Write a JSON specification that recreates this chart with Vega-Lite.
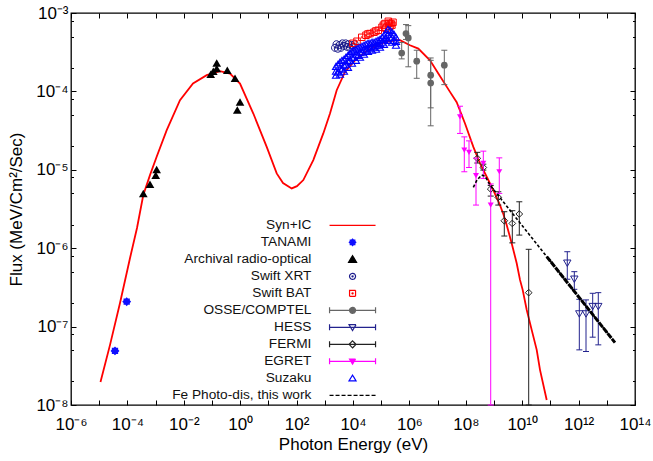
{
"$schema":"https://vega.github.io/schema/vega-lite/v6.json",
"width":564,"height":392,
"autosize":{"type":"none"},
"padding":{"left":71,"top":13,"right":18,"bottom":56},
"background":"white",
"config":{
 "view":{"stroke":"#000","strokeWidth":1.3},
 "mark":{"opacity":1},"point":{"opacity":1},"tick":{"opacity":1},"rule":{"opacity":1},
 "axis":{"grid":false,"domain":false,"tickColor":"#000","tickWidth":1,"labelFont":"Liberation Sans","titleFont":"Liberation Sans","labelColor":"#000","titleColor":"#000","titleFontWeight":"normal","labelFlush":false,"labelOverlap":false},
 "legend":{"orient":"none","legendX":274.7,"legendY":205.5,"padding":0,"labelAlign":"right","labelOffset":-48,"labelFont":"Liberation Sans","labelFontSize":13.7,"labelColor":"#111","symbolSize":100,"symbolStrokeWidth":1.2,"rowPadding":2,"labelLimit":400,"symbolOpacity":1,"labelBaseline":"middle"}
},
"data":{"values":[
{"s":"Syn+IC","x":1.11e-5,"y":1.97e-8},{"s":"Syn+IC","x":2.42e-5,"y":5.85e-8},{"s":"Syn+IC","x":5.47e-5,"y":2.0e-7},{"s":"Syn+IC","x":1.24e-4,"y":7.5e-7},{"s":"Syn+IC","x":2.19e-4,"y":1.81e-6},{"s":"Syn+IC","x":3.66e-4,"y":4.76e-6},{"s":"Syn+IC","x":6.32e-4,"y":8.55e-6},{"s":"Syn+IC","x":1.09e-3,"y":1.47e-5},{"s":"Syn+IC","x":2.48e-3,"y":3.21e-5},{"s":"Syn+IC","x":7.33e-3,"y":7.73e-5},{"s":"Syn+IC","x":2.12e-2,"y":1.26e-4},{"s":"Syn+IC","x":6.49e-2,"y":1.61e-4},{"s":"Syn+IC","x":0.192,"y":1.81e-4},{"s":"Syn+IC","x":0.435,"y":1.69e-4},{"s":"Syn+IC","x":0.984,"y":1.26e-4},{"s":"Syn+IC","x":2.92,"y":5.22e-5},{"s":"Syn+IC","x":8.71,"y":1.96e-5},{"s":"Syn+IC","x":19.7,"y":9.0e-6},{"s":"Syn+IC","x":33.0,"y":6.78e-6},{"s":"Syn+IC","x":67.0,"y":5.79e-6},{"s":"Syn+IC","x":103,"y":6.19e-6},{"s":"Syn+IC","x":173,"y":7.4e-6},{"s":"Syn+IC","x":391,"y":1.33e-5},{"s":"Syn+IC","x":885,"y":2.91e-5},{"s":"Syn+IC","x":1528,"y":5.22e-5},{"s":"Syn+IC","x":2642,"y":1.035e-4},{"s":"Syn+IC","x":5200,"y":1.77e-4},{"s":"Syn+IC","x":11780,"y":2.49e-4},{"s":"Syn+IC","x":26670,"y":3.16e-4},{"s":"Syn+IC","x":60260,"y":3.77e-4},{"s":"Syn+IC","x":1.36e5,"y":4.24e-4},{"s":"Syn+IC","x":3.08e5,"y":4.49e-4},{"s":"Syn+IC","x":4.64e5,"y":4.49e-4},{"s":"Syn+IC","x":1.05e6,"y":3.88e-4},{"s":"Syn+IC","x":2.07e6,"y":3.52e-4},{"s":"Syn+IC","x":5.37e6,"y":2.49e-4},{"s":"Syn+IC","x":1.06e7,"y":1.69e-4},{"s":"Syn+IC","x":2.75e7,"y":9.86e-5},{"s":"Syn+IC","x":4.75e7,"y":7.28e-5},{"s":"Syn+IC","x":9.38e7,"y":3.9e-5},{"s":"Syn+IC","x":1.85e8,"y":1.96e-5},{"s":"Syn+IC","x":3.19e8,"y":1.21e-5},{"s":"Syn+IC","x":5.51e8,"y":8.15e-6},{"s":"Syn+IC","x":9.44e8,"y":5.51e-6},{"s":"Syn+IC","x":1.63e9,"y":3.55e-6},{"s":"Syn+IC","x":2.14e9,"y":2.73e-6},{"s":"Syn+IC","x":2.82e9,"y":1.98e-6},{"s":"Syn+IC","x":4.25e9,"y":1.15e-6},{"s":"Syn+IC","x":6.38e9,"y":6.43e-7},{"s":"Syn+IC","x":8.36e9,"y":3.94e-7},{"s":"Syn+IC","x":1.04e10,"y":2.94e-7},{"s":"Syn+IC","x":1.45e10,"y":1.63e-7},{"s":"Syn+IC","x":2.17e10,"y":9.08e-8},{"s":"Syn+IC","x":3.27e10,"y":5.05e-8},{"s":"Syn+IC","x":4.28e10,"y":2.81e-8},{"s":"Syn+IC","x":7.40e10,"y":1.16e-8},
{"s":"TANAMI","x":3.63e-5,"y":4.9e-8},{"s":"TANAMI","x":9.44e-5,"y":2.08e-7},
{"s":"Archival radio-optical","x":3.66e-4,"y":5.0e-6},{"s":"Archival radio-optical","x":6.32e-4,"y":6.52e-6},{"s":"Archival radio-optical","x":1.01e-3,"y":8.55e-6},{"s":"Archival radio-optical","x":1.09e-3,"y":1.01e-5},{"s":"Archival radio-optical","x":0.09,"y":1.66e-4},{"s":"Archival radio-optical","x":0.111,"y":1.81e-4},{"s":"Archival radio-optical","x":0.147,"y":2.31e-4},{"s":"Archival radio-optical","x":0.147,"y":1.96e-4},{"s":"Archival radio-optical","x":0.349,"y":1.86e-4},{"s":"Archival radio-optical","x":0.655,"y":1.47e-4},{"s":"Archival radio-optical","x":0.789,"y":5.77e-5},{"s":"Archival radio-optical","x":0.984,"y":7.35e-5},
{"s":"Swift XRT","x":2300,"y":3.6e-4},{"s":"Swift XRT","x":2600,"y":4.0e-4},{"s":"Swift XRT","x":2900,"y":3.5e-4},{"s":"Swift XRT","x":3300,"y":3.9e-4},{"s":"Swift XRT","x":3750,"y":3.6e-4},{"s":"Swift XRT","x":4200,"y":4.1e-4},{"s":"Swift XRT","x":4800,"y":3.8e-4},{"s":"Swift XRT","x":5500,"y":4.1e-4},{"s":"Swift XRT","x":6100,"y":3.7e-4},{"s":"Swift XRT","x":7000,"y":4.0e-4},{"s":"Swift XRT","x":7800,"y":3.6e-4},{"s":"Swift XRT","x":9000,"y":3.9e-4},{"s":"Swift XRT","x":10000,"y":3.7e-4},{"s":"Swift XRT","x":11500,"y":4.0e-4},
{"s":"Swift BAT","x":1.0e4,"y":4.11e-4},{"s":"Swift BAT","x":1.39e4,"y":4.36e-4},{"s":"Swift BAT","x":2.04e4,"y":4.9e-4},{"s":"Swift BAT","x":2.89e4,"y":5.2e-4},{"s":"Swift BAT","x":3.4e4,"y":5.4e-4},{"s":"Swift BAT","x":4.01e4,"y":5.47e-4},{"s":"Swift BAT","x":5.56e4,"y":5.68e-4},{"s":"Swift BAT","x":6.5e4,"y":5.9e-4},{"s":"Swift BAT","x":7.89e4,"y":6.02e-4},{"s":"Swift BAT","x":1.07e5,"y":6.58e-4},{"s":"Swift BAT","x":1.2e5,"y":7.0e-4},{"s":"Swift BAT","x":1.36e5,"y":7.33e-4},{"s":"Swift BAT","x":1.48e5,"y":6.38e-4},{"s":"Swift BAT","x":1.79e5,"y":7.84e-4},{"s":"Swift BAT","x":1.9e5,"y":7.4e-4},{"s":"Swift BAT","x":2.05e5,"y":6.78e-4},{"s":"Swift BAT","x":2.23e5,"y":7.33e-4},{"s":"Swift BAT","x":2.4e5,"y":7.0e-4},{"s":"Swift BAT","x":2.62e5,"y":7.62e-4},
{"s":"OSSE/COMPTEL","x":5.33e5,"y":3.09e-4,"lo":2.6e-4,"hi":4.2e-4},{"s":"OSSE/COMPTEL","x":7.57e5,"y":5.47e-4,"lo":4.6e-4,"hi":7.12e-4},{"s":"OSSE/COMPTEL","x":9.14e5,"y":4.81e-4,"lo":2.06e-4,"hi":6.9e-4},{"s":"OSSE/COMPTEL","x":1.82e6,"y":2.43e-4,"lo":1.47e-4,"hi":3.35e-4},{"s":"OSSE/COMPTEL","x":5.69e6,"y":1.61e-4,"lo":6.17e-5,"hi":2.67e-4},{"s":"OSSE/COMPTEL","x":5.69e6,"y":1.28e-4,"lo":3.64e-5,"hi":2.49e-4},{"s":"OSSE/COMPTEL","x":1.73e7,"y":2.16e-4,"lo":1.22e-4,"hi":3.35e-4},
{"s":"HESS","x":3.97e11,"y":6.43e-7,"lo":4.02e-7,"hi":9.02e-7},{"s":"HESS","x":7.05e11,"y":4.02e-7,"lo":2.99e-7,"hi":5.02e-7},{"s":"HESS","x":1.06e12,"y":1.45e-7,"lo":5.05e-8,"hi":2.23e-7},{"s":"HESS","x":1.83e12,"y":1.45e-7,"lo":4.81e-8,"hi":2.19e-7},{"s":"HESS","x":3.16e12,"y":1.80e-7,"lo":7.33e-8,"hi":2.66e-7},{"s":"HESS","x":4.99e12,"y":1.80e-7,"lo":5.85e-8,"hi":2.71e-7},
{"s":"FERMI","x":2.56e8,"y":1.40e-5,"lo":1.22e-5,"hi":1.67e-5},{"s":"FERMI","x":4.18e8,"y":1.07e-5,"lo":9.91e-6,"hi":1.18e-5},{"s":"FERMI","x":7.64e8,"y":5.68e-6,"lo":4.62e-6,"hi":6.3e-6},{"s":"FERMI","x":1.42e9,"y":4.45e-6,"lo":3.55e-6,"hi":5.25e-6},{"s":"FERMI","x":2.32e9,"y":2.24e-6,"lo":1.43e-6,"hi":2.92e-6},{"s":"FERMI","x":4.46e9,"y":2.07e-6,"lo":1.17e-6,"hi":3.01e-6},{"s":"FERMI","x":7.89e9,"y":2.73e-6,"lo":1.47e-6,"hi":3.91e-6},{"s":"FERMI","x":1.70e10,"y":2.71e-7,"lo":1e-8,"hi":9.68e-7},
{"s":"EGRET","x":6.22e7,"y":4.73e-5,"lo":2.91e-5,"hi":6.47e-5},{"s":"EGRET","x":8.85e7,"y":1.78e-5,"lo":9.44e-6,"hi":2.63e-5},{"s":"EGRET","x":1.30e8,"y":1.67e-5,"lo":1.07e-5,"hi":2.34e-5},{"s":"EGRET","x":2.30e8,"y":8.43e-6,"lo":3.55e-6,"hi":1.41e-5},{"s":"EGRET","x":4.18e8,"y":1.21e-5,"lo":7.76e-6,"hi":1.73e-5},{"s":"EGRET","x":7.64e8,"y":3.55e-6,"lo":1e-8,"hi":6.6e-6},{"s":"EGRET","x":1.54e9,"y":9.44e-6,"lo":5.0e-6,"hi":1.42e-5},
{"s":"Suzaku","x":2495,"y":2.09e-4},{"s":"Suzaku","x":2495,"y":1.81e-4},{"s":"Suzaku","x":2495,"y":1.61e-4},
{"s":"Suzaku","x":2938,"y":2.22e-4},{"s":"Suzaku","x":2938,"y":1.76e-4},
{"s":"Suzaku","x":3459,"y":2.36e-4},{"s":"Suzaku","x":3459,"y":1.98e-4},{"s":"Suzaku","x":3459,"y":1.66e-4},
{"s":"Suzaku","x":4074,"y":2.49e-4},{"s":"Suzaku","x":4074,"y":1.92e-4},
{"s":"Suzaku","x":4797,"y":2.57e-4},{"s":"Suzaku","x":4797,"y":2.16e-4},{"s":"Suzaku","x":4797,"y":1.81e-4},
{"s":"Suzaku","x":5649,"y":2.73e-4},{"s":"Suzaku","x":5649,"y":2.22e-4},
{"s":"Suzaku","x":6653,"y":2.89e-4},{"s":"Suzaku","x":6653,"y":2.43e-4},{"s":"Suzaku","x":6653,"y":2.03e-4},
{"s":"Suzaku","x":7834,"y":3.07e-4},{"s":"Suzaku","x":7834,"y":2.49e-4},
{"s":"Suzaku","x":9226,"y":3.25e-4},{"s":"Suzaku","x":9226,"y":2.73e-4},{"s":"Suzaku","x":9226,"y":2.29e-4},
{"s":"Suzaku","x":10840,"y":3.35e-4},{"s":"Suzaku","x":10840,"y":2.73e-4},
{"s":"Suzaku","x":12770,"y":3.45e-4},{"s":"Suzaku","x":12770,"y":2.98e-4},{"s":"Suzaku","x":12770,"y":2.49e-4},
{"s":"Suzaku","x":15030,"y":3.55e-4},{"s":"Suzaku","x":15030,"y":2.89e-4},
{"s":"Suzaku","x":17710,"y":3.66e-4},{"s":"Suzaku","x":17710,"y":3.16e-4},{"s":"Suzaku","x":17710,"y":2.73e-4},
{"s":"Suzaku","x":20840,"y":3.77e-4},{"s":"Suzaku","x":20840,"y":3.16e-4},
{"s":"Suzaku","x":24550,"y":3.88e-4},{"s":"Suzaku","x":24550,"y":3.45e-4},{"s":"Suzaku","x":24550,"y":2.98e-4},
{"s":"Suzaku","x":28900,"y":3.99e-4},{"s":"Suzaku","x":28900,"y":3.35e-4},
{"s":"Suzaku","x":34040,"y":4.11e-4},{"s":"Suzaku","x":34040,"y":3.66e-4},{"s":"Suzaku","x":34040,"y":3.25e-4},
{"s":"Suzaku","x":40100,"y":4.11e-4},{"s":"Suzaku","x":40100,"y":3.55e-4},
{"s":"Suzaku","x":47200,"y":4.24e-4},{"s":"Suzaku","x":47200,"y":3.77e-4},{"s":"Suzaku","x":47200,"y":3.35e-4},
{"s":"Suzaku","x":55600,"y":4.24e-4},{"s":"Suzaku","x":55600,"y":3.66e-4},
{"s":"Suzaku","x":65500,"y":4.36e-4},{"s":"Suzaku","x":65500,"y":3.88e-4},{"s":"Suzaku","x":65500,"y":3.45e-4},
{"s":"Suzaku","x":77100,"y":4.49e-4},{"s":"Suzaku","x":77100,"y":3.88e-4},
{"s":"Suzaku","x":90600,"y":4.62e-4},{"s":"Suzaku","x":90600,"y":4.11e-4},{"s":"Suzaku","x":90600,"y":3.66e-4},
{"s":"Suzaku","x":106700,"y":4.9e-4},{"s":"Suzaku","x":106700,"y":4.24e-4},
{"s":"Suzaku","x":125600,"y":5.2e-4},{"s":"Suzaku","x":125600,"y":4.62e-4},{"s":"Suzaku","x":125600,"y":3.99e-4},
{"s":"Suzaku","x":147900,"y":5.68e-4},{"s":"Suzaku","x":147900,"y":4.77e-4},
{"s":"Suzaku","x":174200,"y":6.19e-4},{"s":"Suzaku","x":174200,"y":5.36e-4},{"s":"Suzaku","x":174200,"y":4.49e-4},
{"s":"Suzaku","x":205000,"y":6.02e-4},{"s":"Suzaku","x":205000,"y":4.9e-4},
{"s":"Suzaku","x":241500,"y":5.68e-4},{"s":"Suzaku","x":241500,"y":4.9e-4},{"s":"Suzaku","x":241500,"y":4.24e-4},
{"s":"Suzaku","x":284000,"y":5.36e-4},{"s":"Suzaku","x":284000,"y":4.49e-4},
{"s":"Suzaku","x":335000,"y":4.9e-4},{"s":"Suzaku","x":335000,"y":4.36e-4},{"s":"Suzaku","x":335000,"y":3.88e-4},
{"s":"Fe Photo-dis, this work","x":1.85e8,"y":5.97e-6},{"s":"Fe Photo-dis, this work","x":2.49e8,"y":7.4e-6},{"s":"Fe Photo-dis, this work","x":3.66e8,"y":8.55e-6},{"s":"Fe Photo-dis, this work","x":4.8e8,"y":8.31e-6},{"s":"Fe Photo-dis, this work","x":7.21e8,"y":6.38e-6},{"s":"Fe Photo-dis, this work","x":7.40e10,"y":7.82e-7},{"s":"Fe Photo-dis, this work","x":1.95e13,"y":6.25e-8}
]},
"encoding":{
 "x":{"field":"x","type":"quantitative","scale":{"type":"log","domain":[1e-6,1e14]},"axis":null},
 "y":{"field":"y","type":"quantitative","scale":{"type":"log","domain":[1e-8,1e-3]},"axis":null}
},
"layer":[
 {"transform":[{"filter":{"field":"s","equal":"Syn+IC"}}],
  "mark":{"type":"line","color":"#ff0000","strokeWidth":1.8},
  "encoding":{
   "x":{"field":"x","type":"quantitative","scale":{"type":"log","domain":[1e-6,1e14]},
     "axis":{"orient":"bottom","values":[1e-6,1e-5,1e-4,1e-3,0.01,0.1,1,10,100,1000,1e4,1e5,1e6,1e7,1e8,1e9,1e10,1e11,1e12,1e13,1e14],
       "labelExpr":"['10⁻⁶','','10⁻⁴','','10⁻²','','10⁰','','10²','','10⁴','','10⁶','','10⁸','','10¹⁰','','10¹²','','10¹⁴'][round(log(datum.value)/LN10)+6]",
       "tickSize":-5,"labelFontSize":17,"labelPadding":16.5,"title":"Photon Energy (eV)","titleFontSize":17,"titlePadding":4}},
   "y":{"field":"y","type":"quantitative","scale":{"type":"log","domain":[1e-8,1e-3]},
     "axis":{"orient":"left","values":[1e-8,1e-7,1e-6,1e-5,1e-4,1e-3],
       "labelExpr":"['10⁻⁸','10⁻⁷','10⁻⁶','10⁻⁵','10⁻⁴','10⁻³'][round(log(datum.value)/LN10)+8]",
       "tickSize":-5,"labelFontSize":17,"labelPadding":8,"title":"Flux (MeV/Cm²/Sec)","titleFontSize":17,"titlePadding":10}}
  }},
 {"transform":[{"filter":{"field":"s","equal":"TANAMI"}}],
  "mark":{"type":"point","filled":true,"color":"#0f0fff","size":80,"shape":"M1,0L0.7,0.29L0.707,0.707L0.29,0.7L0,1L-0.29,0.7L-0.707,0.707L-0.7,0.29L-1,0L-0.7,-0.29L-0.707,-0.707L-0.29,-0.7L0,-1L0.29,-0.7L0.707,-0.707L0.7,-0.29Z"},
  "encoding":{
   "x":{"field":"x","type":"quantitative","scale":{"type":"log","domain":[1e-6,1e14]},
     "axis":{"orient":"top","values":[1e-6,1e-5,1e-4,1e-3,0.01,0.1,1,10,100,1000,1e4,1e5,1e6,1e7,1e8,1e9,1e10,1e11,1e12,1e13,1e14],"labels":false,"tickSize":-5,"title":null}},
   "y":{"field":"y","type":"quantitative","scale":{"type":"log","domain":[1e-8,1e-3]},
     "axis":{"orient":"right","values":[1e-8,1e-7,1e-6,1e-5,1e-4,1e-3],"labels":false,"tickSize":-5,"title":null}}
  }},
 {"transform":[{"filter":{"field":"s","equal":"Archival radio-optical"}}],
  "mark":{"type":"point","filled":true,"color":"#000","size":75,"shape":"triangle-up"},
  "encoding":{
   "y":{"field":"y","type":"quantitative","scale":{"type":"log","domain":[1e-8,1e-3]},
     "axis":{"orient":"left","values":[2e-8,5e-8,8e-8,2e-7,5e-7,8e-7,2e-6,5e-6,8e-6,2e-5,5e-5,8e-5,2e-4,5e-4,8e-4],"labels":false,"tickSize":-2.5,"title":null}}
  }},
 {"transform":[{"filter":{"field":"s","equal":"Swift XRT"}}],
  "mark":{"type":"point","filled":false,"color":"#1c1c8c","size":49,"strokeWidth":1,"shape":"M1,0A1,1,0,1,1,-1,0A1,1,0,1,1,1,0ZM0.2,0A0.2,0.2,0,1,1,-0.2,0A0.2,0.2,0,1,1,0.2,0Z"},
  "encoding":{
   "y":{"field":"y","type":"quantitative","scale":{"type":"log","domain":[1e-8,1e-3]},
     "axis":{"orient":"right","values":[2e-8,5e-8,8e-8,2e-7,5e-7,8e-7,2e-6,5e-6,8e-6,2e-5,5e-5,8e-5,2e-4,5e-4,8e-4],"labels":false,"tickSize":-2.5,"title":null}}
  }},
 {"transform":[{"filter":{"field":"s","equal":"Swift BAT"}}],
  "mark":{"type":"point","filled":false,"color":"#ff0000","size":42,"strokeWidth":1,"shape":"M-1,-1H1V1H-1ZM0.2,0A0.2,0.2,0,1,1,-0.2,0A0.2,0.2,0,1,1,0.2,0Z"}},
 {"transform":[{"filter":{"field":"s","equal":"OSSE/COMPTEL"}}],
  "mark":{"type":"errorbar","ticks":true,"color":"#666666","size":6,"thickness":1},
  "encoding":{"y":{"field":"lo","type":"quantitative","scale":{"type":"log","domain":[1e-8,1e-3]},"axis":null},"y2":{"field":"hi"}}},
 {"transform":[{"filter":{"field":"s","equal":"OSSE/COMPTEL"}}],
  "mark":{"type":"point","filled":true,"color":"#666666","size":45,"shape":"circle"}},
 {"transform":[{"filter":{"field":"s","equal":"HESS"}}],
  "mark":{"type":"errorbar","ticks":true,"color":"#23238e","size":6,"thickness":1},
  "encoding":{"y":{"field":"lo","type":"quantitative","scale":{"type":"log","domain":[1e-8,1e-3]},"axis":null},"y2":{"field":"hi"}}},
 {"transform":[{"filter":{"field":"s","equal":"HESS"}}],
  "mark":{"type":"point","filled":false,"color":"#23238e","size":55,"strokeWidth":1,"shape":"triangle-down"}},
 {"transform":[{"filter":{"field":"s","equal":"FERMI"}}],
  "mark":{"type":"errorbar","ticks":true,"color":"#222222","size":6,"thickness":1},
  "encoding":{"y":{"field":"lo","type":"quantitative","scale":{"type":"log","domain":[1e-8,1e-3]},"axis":null},"y2":{"field":"hi"}}},
 {"transform":[{"filter":{"field":"s","equal":"FERMI"}}],
  "mark":{"type":"point","filled":false,"color":"#222222","size":45,"strokeWidth":1,"shape":"diamond"}},
 {"transform":[{"filter":{"field":"s","equal":"EGRET"}}],
  "mark":{"type":"errorbar","ticks":true,"color":"#ff00ff","size":6,"thickness":1},
  "encoding":{"y":{"field":"lo","type":"quantitative","scale":{"type":"log","domain":[1e-8,1e-3]},"axis":null},"y2":{"field":"hi"}}},
 {"transform":[{"filter":{"field":"s","equal":"EGRET"}}],
  "mark":{"type":"point","filled":true,"color":"#ff00ff","size":36,"shape":"triangle-down"}},
 {"transform":[{"filter":{"field":"s","equal":"Suzaku"}}],
  "mark":{"type":"point","filled":false,"color":"#0000ff","size":50,"strokeWidth":1.1,"shape":"triangle-up"}},
 {"transform":[{"filter":{"field":"s","equal":"Fe Photo-dis, this work"}}],
  "mark":{"type":"line","color":"#000","strokeWidth":1.6,"strokeDash":[3,2]}},
 {"transform":[{"filter":{"field":"s","equal":"Fe Photo-dis, this work"}},{"filter":"datum.x >= 7.4e10"}],
  "mark":{"type":"line","color":"#000","strokeWidth":3,"strokeDash":[6,1]}},
 {"transform":[{"filter":"false"}],
  "mark":{"type":"point","opacity":1,"filled":false},
  "encoding":{
   "fill":{"field":"s","type":"nominal","legend":{"title":null},"scale":{"domain":["Syn+IC","TANAMI","Archival radio-optical","Swift XRT","Swift BAT","OSSE/COMPTEL","HESS","FERMI","EGRET","Suzaku","Fe Photo-dis, this work"],"range":["transparent","#0f0fff","#000000","transparent","transparent","#666666","transparent","transparent","#ff00ff","transparent","transparent"]}},
   "stroke":{"field":"s","type":"nominal","legend":{"title":null},"scale":{"domain":["Syn+IC","TANAMI","Archival radio-optical","Swift XRT","Swift BAT","OSSE/COMPTEL","HESS","FERMI","EGRET","Suzaku","Fe Photo-dis, this work"],"range":["#ff0000","#0f0fff","#000000","#1c1c8c","#ff0000","#666666","#23238e","#222222","#ff00ff","#0000ff","#000000"]}},
   "shape":{"field":"s","type":"nominal","legend":{"title":null},"scale":{"domain":["Syn+IC","TANAMI","Archival radio-optical","Swift XRT","Swift BAT","OSSE/COMPTEL","HESS","FERMI","EGRET","Suzaku","Fe Photo-dis, this work"],"range":[
     "M-4.6,0H4.6",
     "M0.65,0L0.46,0.19L0.46,0.46L0.19,0.46L0,0.65L-0.19,0.46L-0.46,0.46L-0.46,0.19L-0.65,0L-0.46,-0.19L-0.46,-0.46L-0.19,-0.46L0,-0.65L0.19,-0.46L0.46,-0.46L0.46,-0.19Z",
     "M0,-0.75L0.8,0.6L-0.8,0.6Z",
     "M0.6,0A0.6,0.6,0,1,1,-0.6,0A0.6,0.6,0,1,1,0.6,0ZM0.12,0A0.12,0.12,0,1,1,-0.12,0A0.12,0.12,0,1,1,0.12,0Z",
     "M-0.6,-0.6H0.6V0.6H-0.6ZM0.12,0A0.12,0.12,0,1,1,-0.12,0A0.12,0.12,0,1,1,0.12,0Z",
     "M-4.6,0H4.6M-4.6,-0.6V0.6M4.6,-0.6V0.6M0.6,0A0.6,0.6,0,1,1,-0.6,0A0.6,0.6,0,1,1,0.6,0Z",
     "M-4.6,0H4.6M-4.6,-0.6V0.6M4.6,-0.6V0.6M-0.7,-0.55H0.7L0,0.65Z",
     "M-4.6,0H4.6M-4.6,-0.6V0.6M4.6,-0.6V0.6M0,-0.7L0.7,0L0,0.7L-0.7,0Z",
     "M-4.6,0H4.6M-4.6,-0.6V0.6M4.6,-0.6V0.6M-0.6,-0.45H0.6L0,0.55Z",
     "M0,-0.65L0.7,0.5L-0.7,0.5Z",
     "M-4.6,0H4.6"]}},
   "strokeDash":{"field":"s","type":"nominal","legend":{"title":null},"scale":{"domain":["Syn+IC","TANAMI","Archival radio-optical","Swift XRT","Swift BAT","OSSE/COMPTEL","HESS","FERMI","EGRET","Suzaku","Fe Photo-dis, this work"],"range":[[1,0],[1,0],[1,0],[1,0],[1,0],[1,0],[1,0],[1,0],[1,0],[1,0],[4,2]]}}
  }}
],
"resolve":{"axis":{"x":"independent","y":"independent"}}
}
